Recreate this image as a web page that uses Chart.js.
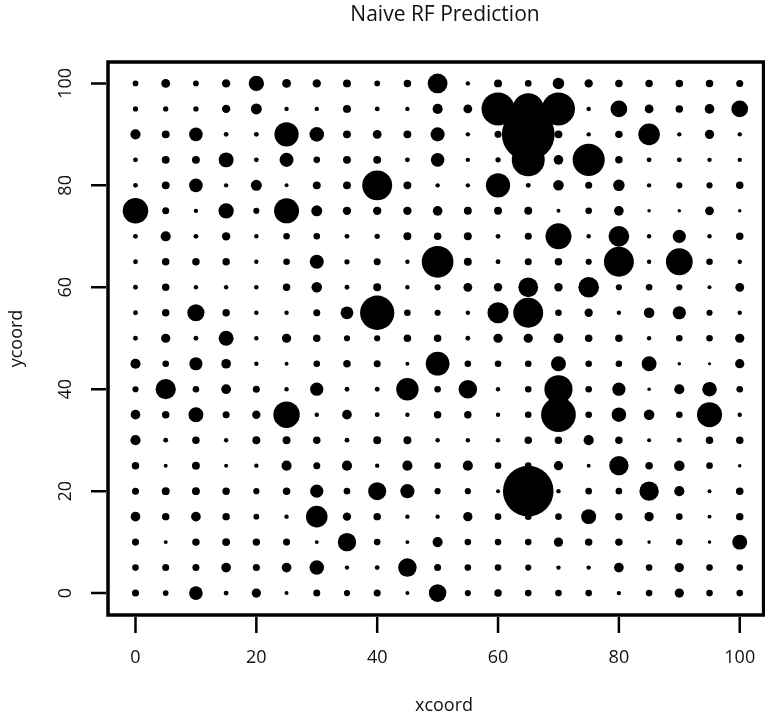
<!DOCTYPE html>
<html>
<head>
<meta charset="utf-8">
<script src="https://cdn.jsdelivr.net/npm/chart.js@4.4.1/dist/chart.umd.min.js"></script>
<style>
html,body{margin:0;padding:0;overflow:hidden;background:#fff}
canvas{display:block}
</style>
</head>
<body>
<canvas id="rf" width="790" height="718" style="width:790px;height:718px"></canvas>
<script>
// grid coordinates
const xcoord = [0,5,10,15,20,25,30,35,40,45,50,55,60,65,70,75,80,85,90,95,100];
const ycoord = [100,95,90,85,80,75,70,65,60,55,50,45,40,35,30,25,20,15,10,5,0];
const xTicks = [0,20,40,60,80,100];
const yTicks = [0,20,40,60,80,100];

// predicted values, one row per ycoord (top row first)
const pred = [
  [1.3,2.0,1.3,1.9,3.5,2.0,1.9, 1.8,1.3,1.7,4.5,1.0,1.8,1.5, 2.6,1.9,1.7,1.7,1.7,1.7,1.6],
  [1.2,1.2,1.2,1.9,2.5,1.0,1.0, 1.8,1.1,1.0,2.3,2.0,7.5,7.1, 7.5,1.0,3.8,2.0,1.7,2.2,3.8],
  [2.3,1.8,3.1,1.1,1.1,5.5,3.3, 1.8,2.0,1.8,3.2,1.0,1.6,12.0, 1.8,1.0,1.7,4.9,1.0,2.1,1.0],
  [1.1,1.8,1.8,3.4,1.1,3.2,1.5, 1.8,1.8,1.1,3.1,1.0,1.2,7.5, 2.2,7.3,1.7,1.1,1.1,1.0,1.0],
  [1.1,1.8,3.1,1.0,2.5,0.9,1.8, 1.8,6.8,1.8,1.0,1.0,5.5,1.1, 2.4,1.6,2.6,1.0,1.4,1.4,1.7],
  [5.8,1.6,1.0,3.5,1.4,5.7,2.5, 1.9,1.9,1.9,2.2,1.8,1.8,1.8, 0.9,1.5,2.2,0.8,0.8,2.0,0.8],
  [1.1,2.3,1.1,1.9,1.0,1.5,1.5, 1.1,1.2,1.8,1.7,1.8,1.1,1.6, 5.9,1.0,4.7,1.0,3.0,1.0,1.7],
  [1.1,1.7,1.7,1.7,1.0,1.5,3.2, 1.2,1.6,1.0,7.2,1.8,1.1,1.6, 1.7,1.4,6.8,1.0,6.1,1.5,1.0],
  [1.1,1.7,1.0,1.0,1.0,1.7,2.4, 1.1,1.8,1.0,1.4,2.0,1.9,4.5, 1.9,4.7,1.4,1.5,1.4,0.9,2.0],
  [1.1,1.7,3.9,1.7,1.0,1.0,1.6, 2.9,7.8,1.5,1.4,1.0,4.8,6.8, 1.5,1.9,1.0,2.4,3.0,1.4,1.0],
  [1.1,2.1,1.1,3.4,1.0,2.1,1.7, 1.4,1.4,1.7,1.7,1.1,2.1,2.1, 2.2,1.7,1.7,1.0,1.5,1.5,2.1],
  [2.3,1.5,3.0,2.2,1.0,0.9,1.5, 1.7,1.6,0.9,5.4,1.5,1.5,1.5, 3.4,1.5,1.5,3.4,0.8,0.7,2.1],
  [1.4,4.6,1.5,2.2,1.6,1.0,3.0, 1.1,1.1,5.1,1.5,4.2,1.0,1.5, 6.4,1.5,3.0,0.8,2.3,3.3,1.5],
  [2.2,1.7,3.4,1.6,1.9,6.0,1.0, 2.2,1.1,1.0,1.7,1.7,1.0,1.5, 7.9,1.5,3.3,2.4,1.5,5.7,1.0],
  [2.3,1.1,1.7,1.0,1.8,1.8,1.7, 1.1,1.8,1.8,1.0,1.0,1.0,1.7, 1.7,2.3,1.7,0.9,1.1,1.7,1.7],
  [1.7,0.9,1.8,0.9,1.0,2.3,1.6, 2.3,1.0,2.3,1.5,2.3,1.5,1.5, 2.1,0.9,4.4,1.7,2.4,1.5,0.8],
  [1.6,1.8,1.8,1.7,1.4,1.7,3.0, 1.5,4.1,3.2,1.4,1.4,0.9,11.5, 1.0,1.5,1.5,4.4,2.3,0.9,1.7],
  [2.2,1.7,2.2,1.7,1.3,1.0,4.9, 1.9,1.7,1.0,1.0,2.1,1.5,1.5, 1.5,3.4,1.7,2.1,1.5,0.9,1.7],
  [1.6,0.9,1.7,1.8,1.7,1.6,0.9, 4.2,1.5,0.9,2.3,1.5,1.5,1.5, 2.1,1.7,1.7,0.8,1.5,0.8,3.4],
  [1.5,1.6,1.6,2.2,1.6,2.2,3.3, 1.0,1.1,4.2,1.6,1.5,1.5,1.4, 1.0,1.0,2.2,1.5,2.1,1.5,1.5],
  [1.6,1.3,3.1,1.1,2.1,0.9,1.6, 1.4,1.6,0.9,4.0,1.4,1.7,1.5, 1.5,1.5,1.0,1.5,2.1,1.5,1.5]
];

const titleText = 'Naive RF Prediction';
const xLabel = 'xcoord';
const yLabel = 'ycoord';

const RSCALE = 2.2; // px of radius per unit of prediction
const FONT = '"Open Sans", "Liberation Sans", sans-serif';

const points = [];
ycoord.forEach((yv, i) => {
  xcoord.forEach((xv, j) => {
    points.push({ x: xv, y: yv, r: pred[i][j] * RSCALE });
  });
});

// R-style frame, axes and text
const rFrame = {
  id: 'rFrame',
  afterDraw(chart){
    const { ctx, chartArea: a, scales: { x, y } } = chart;
    ctx.save();
    ctx.strokeStyle = '#000';
    ctx.fillStyle = '#111';
    ctx.lineWidth = 3.5;
    ctx.strokeRect(a.left, a.top, a.right - a.left, a.bottom - a.top);

    ctx.lineWidth = 2.5;
    ctx.beginPath();
    xTicks.forEach(v => {
      const px = x.getPixelForValue(v);
      ctx.moveTo(px, a.bottom + 2); ctx.lineTo(px, a.bottom + 18);
    });
    yTicks.forEach(v => {
      const py = y.getPixelForValue(v);
      ctx.moveTo(a.left - 2, py); ctx.lineTo(a.left - 17, py);
    });
    ctx.stroke();

    ctx.font = '18px ' + FONT;
    ctx.textAlign = 'center';
    ctx.textBaseline = 'middle';
    xTicks.forEach(v => ctx.fillText(String(v), x.getPixelForValue(v), a.bottom + 43));
    yTicks.forEach(v => {
      ctx.save();
      ctx.translate(a.left - 42, y.getPixelForValue(v));
      ctx.rotate(-Math.PI / 2);
      ctx.fillText(String(v), 0, 0);
      ctx.restore();
    });

    ctx.fillText(xLabel, 444, 706);
    ctx.save();
    ctx.translate(17, (a.top + a.bottom) / 2);
    ctx.rotate(-Math.PI / 2);
    ctx.fillText(yLabel, 0, 0);
    ctx.restore();

    ctx.font = '21px ' + FONT;
    ctx.fillText(titleText, 445, 15);
    ctx.restore();
  }
};

new Chart(document.getElementById('rf').getContext('2d'), {
  type: 'bubble',
  data: { datasets: [{
    label: 'prediction',
    data: points,
    backgroundColor: '#000',
    borderColor: '#000',
    borderWidth: 0,
    hoverRadius: 0
  }]},
  options: {
    responsive: false,
    animation: false,
    events: [],
    layout: { padding: { left: 108, right: 19, top: 62, bottom: 103 } },
    plugins: { legend: { display: false }, title: { display: false }, tooltip: { enabled: false } },
    scales: {
      x: { type: 'linear', min: -4.55, max: 103.95, display: false },
      y: { type: 'linear', min: -4.3, max: 104.2, display: false }
    }
  },
  plugins: [rFrame]
});
</script>
</body>
</html>
